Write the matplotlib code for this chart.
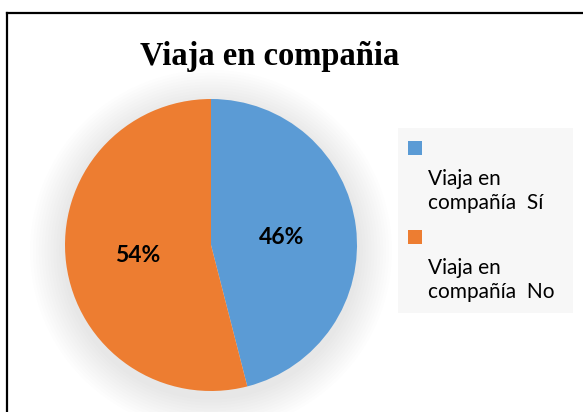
import numpy as np
import matplotlib
matplotlib.use("Agg")
import matplotlib.pyplot as plt
from matplotlib.patches import Rectangle, Circle
from matplotlib.lines import Line2D

title = "Viaja en compañia"
labels = ["Viaja en\ncompañía  Sí", "Viaja en\ncompañía  No"]
values = [46, 54]
colors = ["#5b9bd5", "#ed7d31"]

W, H = 583, 412
fig = plt.figure(figsize=(W / 100, H / 100), dpi=100)
fig.patch.set_facecolor("white")

# frame: only top and left edges visible
fig.add_artist(Line2D([6.5 / W, 6.5 / W], [0, 1 - 12.5 / H], color="black", lw=1.6))
fig.add_artist(Line2D([6.5 / W, 1], [1 - 12.5 / H, 1 - 12.5 / H], color="black", lw=1.6))

fig.text(270 / W, 1 - 56 / H, title, ha="center", va="center",
         family="Liberation Serif", weight="bold", fontsize=23.5)

# pie axes, pixel layout
cx, cy, r = 211, 245, 146
pad = 1.3
ax = fig.add_axes([(cx - r * pad) / W, (H - cy - r * pad) / H, 2 * r * pad / W, 2 * r * pad / H])

# soft shadow
for k in range(12):
    rr = 1.0 + 0.02 * (12 - k)
    ax.add_patch(Circle((0, -0.04), rr, color="black", alpha=0.006, lw=0))

wedges, texts = ax.pie(values, colors=colors, startangle=90, counterclock=False,
                       radius=1.0, wedgeprops=dict(linewidth=0))
ax.set_xlim(-pad, pad)
ax.set_ylim(-pad, pad)
ax.set_aspect("equal")
ax.axis("off")

pct_pos = [(282, 237), (138, 256)]
for v, (px, py) in zip(values, pct_pos):
    fig.text(px / W, 1 - py / H, f"{v}%", ha="center", va="center",
             family="Lato", weight="bold", fontsize=16.5, color="black")

# legend box
fig.add_artist(Rectangle((398 / W, 1 - 313 / H), 175 / W, 185 / H,
                         transform=fig.transFigure, facecolor="#f7f7f7", edgecolor="none"))
sq_tops = [141, 230]
for lab, col, top in zip(labels, colors, sq_tops):
    fig.add_artist(Rectangle((408 / W, 1 - (top + 14) / H), 14 / W, 14 / H,
                             transform=fig.transFigure, facecolor=col, edgecolor="none"))
    fig.text(428 / W, 1 - (top + 50) / H, lab, ha="left", va="center",
             family="Lato", fontsize=15, linespacing=1.22, color="black")

fig.savefig("out.png", dpi=100, facecolor="white")
